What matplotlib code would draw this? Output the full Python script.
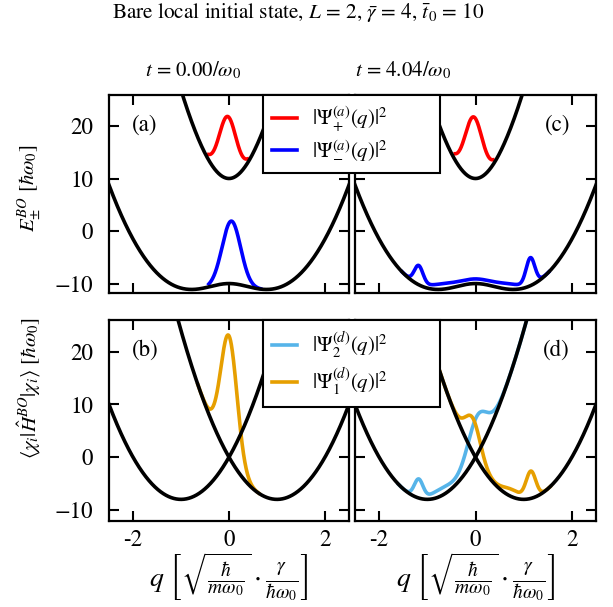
import matplotlib
matplotlib.use("Agg")
import matplotlib.pyplot as plt
import numpy as np

plt.rcParams["font.family"] = "STIXGeneral"
plt.rcParams["mathtext.fontset"] = "stix"
plt.rcParams["font.size"] = 16.5

# model parameters (dimensionless)
gamma_bar = 4.0
t0_bar = 10.0
times = ["0.00", "4.04"]

# wavepacket densities as gaussian pieces: centres, widths, heights,
# plus the q-window where each packet is drawn
# (a) adiabatic, t = 0
plus_a_c, plus_a_w, plus_a_h = [-0.03], [0.18], [11.8]
plus_a_lim = (-0.42, 0.38)
minus_a_c, minus_a_w, minus_a_h = [0.05], [0.19], [11.9]
minus_a_lim = (-0.42, 0.66)
# (b) diabatic, t = 0
d1_b_c, d1_b_w, d1_b_h = [0.0], [0.17], [23.0]
d1_b_lim = (-0.65, 0.62)
d2_b_c, d2_b_w, d2_b_h = [], [], []
d2_b_lim = (-0.65, 0.62)
# (c) adiabatic, t = 4.04
plus_c_c, plus_c_w, plus_c_h = [-0.04], [0.18], [11.7]
plus_c_lim = (-0.42, 0.36)
minus_c_c = [-1.18, 1.14, -0.7, 0.0, 0.7]
minus_c_w = [0.09, 0.09, 0.3, 0.3, 0.3]
minus_c_h = [3.4, 5.0, 1.0, 0.75, 1.0]
minus_c_lim = (-1.52, 1.52)
# (d) diabatic, t = 4.04
d2_d_c, d2_d_w, d2_d_h = [-1.18, -0.7, 0.03], [0.09, 0.25, 0.2], [3.4, 1.4, 7.3]
d2_d_lim = (-1.6, 1.1)
d1_d_c, d1_d_w, d1_d_h = [-0.05, 0.75, 1.15], [0.16, 0.2, 0.1], [6.5, 1.4, 5.0]
d1_d_lim = (-0.75, 1.55)

q = np.linspace(-2.5, 2.5, 2001)
curv = gamma_bar**2 / 2
slope = gamma_bar**2
V1 = curv * q**2 + slope * q
V2 = curv * q**2 - slope * q
root = np.sqrt((slope * q)**2 + t0_bar**2)
E_plus = curv * q**2 + root
E_minus = curv * q**2 - root


def packet(base, centres, widths, heights, lim):
    dens = np.zeros_like(q)
    for c, w, h in zip(centres, widths, heights):
        dens += h * np.exp(-(q - c)**2 / (2 * w**2))
    y = base + dens
    y[(q < lim[0]) | (q > lim[1])] = np.nan
    if not centres:
        y[:] = np.nan
    return y


RED, BLUE = "#ff0000", "#0000ff"
SKY, ORANGE = "#56b4e9", "#e69f00"
lw = 2.6

W, H = 613, 607
fig = plt.figure(figsize=(W / 100, H / 100), dpi=100)


def box(x0, y0, x1, y1):
    return [x0 / W, 1 - y1 / H, (x1 - x0) / W, (y1 - y0) / H]


ax_a = fig.add_axes(box(109, 95, 349, 293))
ax_c = fig.add_axes(box(355, 95, 596, 293))
ax_b = fig.add_axes(box(109, 320, 349, 521))
ax_d = fig.add_axes(box(355, 320, 596, 521))

# top row: Born-Oppenheimer surfaces
for ax, pc, mc in [
    (ax_a, (plus_a_c, plus_a_w, plus_a_h, plus_a_lim),
     (minus_a_c, minus_a_w, minus_a_h, minus_a_lim)),
    (ax_c, (plus_c_c, plus_c_w, plus_c_h, plus_c_lim),
     (minus_c_c, minus_c_w, minus_c_h, minus_c_lim)),
]:
    lp, = ax.plot(q, packet(E_plus, *pc), color=RED, lw=lw, zorder=2)
    lm, = ax.plot(q, packet(E_minus, *mc), color=BLUE, lw=lw, zorder=2)
    ax.plot(q, E_plus, color="k", lw=lw, zorder=3)
    ax.plot(q, E_minus, color="k", lw=lw, zorder=3)
    ax.set_ylim(-11.8, 25.9)

# bottom row: diabatic potentials
for ax, d2, d1 in [
    (ax_b, (d2_b_c, d2_b_w, d2_b_h, d2_b_lim), (d1_b_c, d1_b_w, d1_b_h, d1_b_lim)),
    (ax_d, (d2_d_c, d2_d_w, d2_d_h, d2_d_lim), (d1_d_c, d1_d_w, d1_d_h, d1_d_lim)),
]:
    l2, = ax.plot(q, packet(V1, *d2), color=SKY, lw=lw, zorder=2)
    l1, = ax.plot(q, packet(V2, *d1), color=ORANGE, lw=lw, zorder=2)
    ax.plot(q, V1, color="k", lw=lw, zorder=3)
    ax.plot(q, V2, color="k", lw=lw, zorder=3)
    ax.set_ylim(-12.1, 26.0)

for ax in (ax_a, ax_b, ax_c, ax_d):
    ax.set_xlim(-2.5, 2.5)
    ax.set_xticks([-2, 0, 2])
    ax.set_yticks([-10, 0, 10, 20])
    ax.tick_params(direction="in", top=True, right=True, length=7, width=1.5)
    ax.tick_params(axis="y", pad=11.5)
    ax.tick_params(axis="x", pad=6.5)
    for s in ax.spines.values():
        s.set_linewidth(1.6)

for ax in (ax_a, ax_c):
    ax.set_xticklabels([])
for ax in (ax_c, ax_d):
    ax.set_yticklabels([])
for ax in (ax_b, ax_d):
    ax.set_xticklabels(["-2", "0", "2"])
    ax.set_xlabel(r"$q\ \left[\sqrt{\frac{\hbar}{m\omega_0}}\cdot\frac{\gamma}{\hbar\omega_0}\right]$",
                  fontsize=20, labelpad=-1)

for ax, lab in [(ax_a, "(a)"), (ax_b, "(b)")]:
    ax.text(0.096, 0.85, lab, transform=ax.transAxes, ha="left", va="center")
for ax, lab in [(ax_c, "(c)"), (ax_d, "(d)")]:
    ax.text(0.892, 0.85, lab, transform=ax.transAxes, ha="right", va="center")

fig.text(29 / W, 1 - 188 / H, r"$E_{\pm}^{BO}\ [\hbar\omega_0]$", fontsize=15,
         rotation=90, ha="center", va="center")
fig.text(29 / W, 1 - 388 / H, r"$\langle\chi_i|\hat{H}^{BO}|\chi_i\rangle\ [\hbar\omega_0]$",
         fontsize=15, rotation=90, ha="center", va="center")

fig.text(298 / W, 1 - 13 / H,
         r"Bare local initial state, $L$ = 2, $\bar{\gamma}$ = 4, $\bar{t}_0$ = 10",
         fontsize=15.3, ha="center", va="center")
for xc, t in zip([193, 403], times):
    fig.text(xc / W, 1 - 70 / H, rf"$t$ = {t}/$\omega_0$", fontsize=15,
             ha="center", va="center")

leg_kw = dict(loc="upper left", mode="expand", fancybox=False, framealpha=1,
              edgecolor="k", fontsize=15, handlelength=1.2, handletextpad=0.7,
              borderpad=0.45, labelspacing=0.25, borderaxespad=0)
leg1 = fig.legend([lp, lm], [r"$|\Psi_{+}^{(a)}(q)|^2$", r"$|\Psi_{-}^{(a)}(q)|^2$"],
                  bbox_to_anchor=(263 / W, 1 - 171 / H, 177 / W, 76 / H), **leg_kw)
leg2 = fig.legend([l2, l1], [r"$|\Psi_{2}^{(d)}(q)|^2$", r"$|\Psi_{1}^{(d)}(q)|^2$"],
                  bbox_to_anchor=(263 / W, 1 - 397 / H, 177 / W, 77 / H), **leg_kw)
for leg in (leg1, leg2):
    leg.get_frame().set_linewidth(1.5)

fig.savefig("out.png", dpi=100)
